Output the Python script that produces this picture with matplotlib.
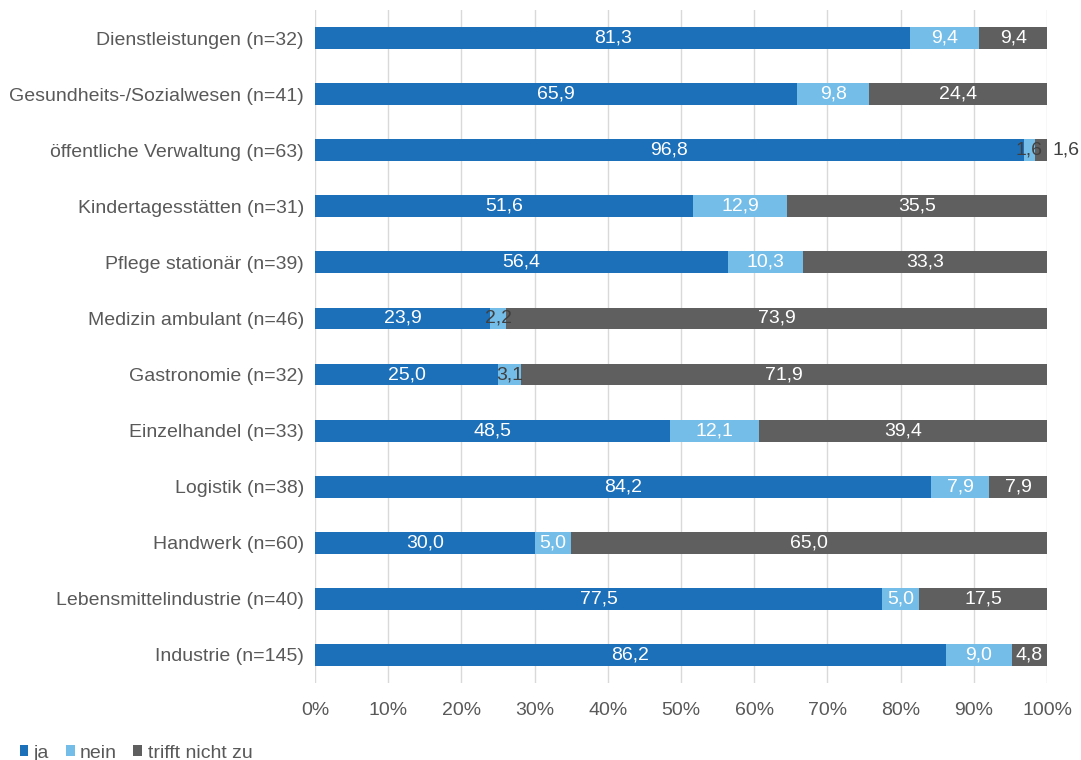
import matplotlib
matplotlib.use("Agg")
import matplotlib.pyplot as plt
from matplotlib.patches import Patch
import numpy as np

plt.rcParams['font.family'] = ['Liberation Sans', 'DejaVu Sans']

categories = [
    "Dienstleistungen (n=32)",
    "Gesundheits-/Sozialwesen (n=41)",
    "öffentliche Verwaltung (n=63)",
    "Kindertagesstätten (n=31)",
    "Pflege stationär (n=39)",
    "Medizin ambulant (n=46)",
    "Gastronomie (n=32)",
    "Einzelhandel (n=33)",
    "Logistik (n=38)",
    "Handwerk (n=60)",
    "Lebensmittelindustrie (n=40)",
    "Industrie (n=145)",
]
ja = [81.3, 65.9, 96.8, 51.6, 56.4, 23.9, 25.0, 48.5, 84.2, 30.0, 77.5, 86.2]
nein = [9.4, 9.8, 1.6, 12.9, 10.3, 2.2, 3.1, 12.1, 7.9, 5.0, 5.0, 9.0]
trifft = [9.4, 24.4, 1.6, 35.5, 33.3, 73.9, 71.9, 39.4, 7.9, 65.0, 17.5, 4.8]
series_names = ["ja", "nein", "trifft nicht zu"]
colors = ["#1c6fb9", "#74bde8", "#5f5f5f"]
text_gray = "#595959"

fig = plt.figure(figsize=(10.81, 7.6), dpi=100)
ax = fig.add_axes([0.2914, 0.1013, 0.6772, 0.8855])

y = np.arange(len(categories))[::-1]
bar_h = 0.39
left = np.zeros(len(categories))
fs = 14
for vals, col in zip([ja, nein, trifft], colors):
    vals = np.array(vals)
    ax.barh(y, vals, left=left, height=bar_h, color=col, zorder=3)
    for yi, l, v in zip(y, left, vals):
        cx = l + v / 2
        if col == colors[2] and v < 3:
            # too narrow: place the label just right of the bar
            ax.text(l + v + 0.7, yi, f"{v:.1f}".replace(".", ","), ha="left",
                    va="center", fontsize=fs, color="#404040", zorder=4)
            continue
        tc = "#404040" if v < 4 else "white"
        ax.text(cx, yi, f"{v:.1f}".replace(".", ","), ha="center", va="center",
                fontsize=fs, color=tc, zorder=4)
    left = left + vals

ax.set_xlim(0, 100)
ax.set_ylim(-0.5, len(categories) - 0.5)
ax.set_yticks(y)
ax.set_yticklabels(categories, fontsize=fs, color=text_gray)
ax.set_xticks(np.arange(0, 101, 10))
ax.set_xticklabels([f"{t}%" for t in range(0, 101, 10)], fontsize=fs, color=text_gray)
ax.tick_params(axis="both", length=0)
ax.tick_params(axis="x", pad=14)
ax.tick_params(axis="y", pad=8)
ax.grid(axis="x", color="#d9d9d9", linewidth=1, zorder=0)
for s in ax.spines.values():
    s.set_visible(False)

handles = [Patch(facecolor=c, edgecolor="none") for c in colors]
fig.legend(handles, series_names, loc="lower left", bbox_to_anchor=(0.002, -0.025),
           ncol=3, frameon=False, fontsize=fs, handlelength=0.45, handleheight=0.45,
           handletextpad=0.28, columnspacing=0.85, labelcolor=text_gray)

fig.savefig("out.png", dpi=100)
